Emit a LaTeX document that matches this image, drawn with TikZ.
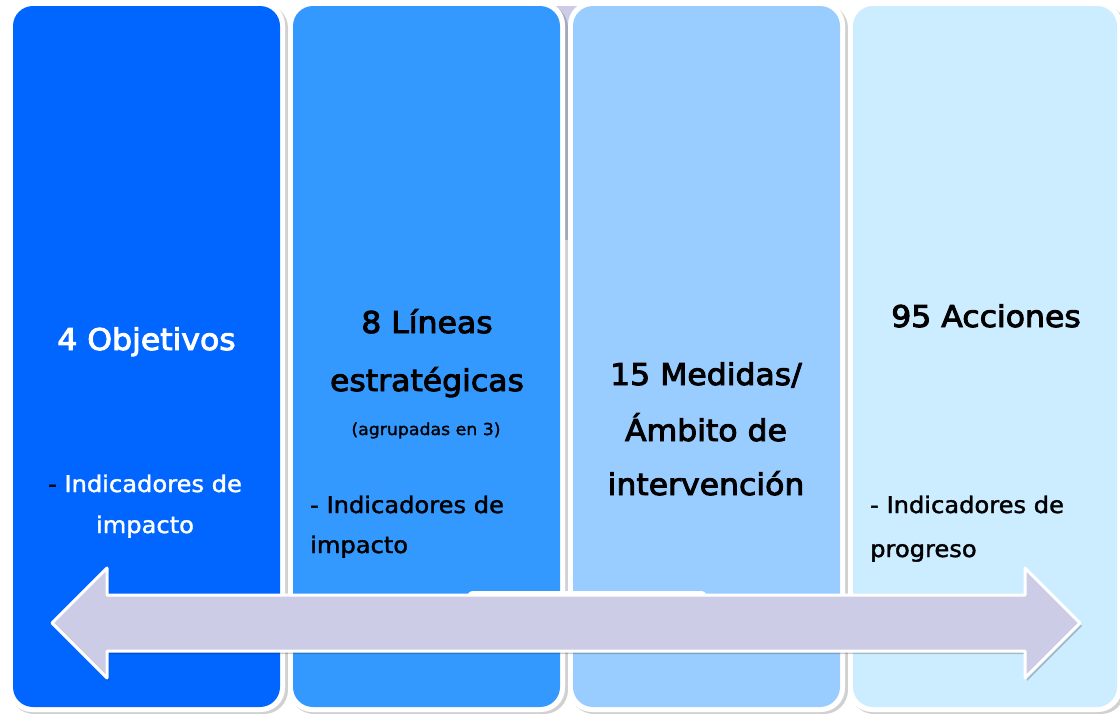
\documentclass[tikz,border=0pt]{standalone}
\usepackage{fontspec}
\setmainfont{DejaVu Sans}
\newfontfamily\titlefont[FakeBold=3]{DejaVu Sans}
\newfontfamily\bodyfont[FakeBold=1.5]{DejaVu Sans}
\definecolor{colA}{HTML}{0066FF}
\definecolor{colB}{HTML}{3399FF}
\definecolor{colC}{HTML}{99CCFF}
\definecolor{colD}{HTML}{CCECFF}
\definecolor{lav}{HTML}{CCCCE6}
\newcommand\widetxt[1]{\scalebox{1.05}[1]{#1}}
\tikzset{
  colshadow/.style={fill=black, opacity=0.18, rounded corners=24pt},
  colborder/.style={fill=white, rounded corners=24pt},
  colfill/.style={rounded corners=20pt},
  ttl/.style={anchor=base, inner sep=0pt, font=\titlefont\fontsize{30}{36}\selectfont},
  bdy/.style={anchor=base, inner sep=0pt, font=\bodyfont\fontsize{23}{27}\selectfont},
  sml/.style={anchor=base, inner sep=0pt, font=\bodyfont\fontsize{16.5}{20}\selectfont},
  bigarrow/.style={draw=white, line width=3pt, fill=lav, line join=round},
}
\begin{document}
\begin{tikzpicture}[x=1pt,y=-1pt]
\useasboundingbox (0,0) rectangle (1120,713);
% lavender shape behind the columns
\fill[lav] (553,6) rectangle (581,240);
% columns
\foreach \l/\r/\c in {13/280/colA, 293/560/colB, 573/840/colC, 853/1117/colD}{
  \fill[colshadow] (\l-3,4) rectangle (\r+8,714);
  \fill[colborder] (\l-5,1) rectangle (\r+5,712);
  \fill[colfill, fill=\c] (\l,6) rectangle (\r,707);
}
% white box behind arrow
\fill[white, rounded corners=6pt] (467,591) rectangle (707,615);
% arrow shadow
\fill[black, opacity=0.2] (54,626) -- (109,571) -- (109,598) -- (1027,598) -- (1027,571) -- (1082,626) -- (1027,681) -- (1027,654) -- (109,654) -- (109,681) -- cycle;
% double arrow
\draw[bigarrow] (52,623) -- (107,568) -- (107,595) -- (1025,595) -- (1025,568) -- (1080,623) -- (1025,678) -- (1025,651) -- (107,651) -- (107,678) -- cycle;
% column 1
\node[ttl, text=white] (t1) at (146.5,350) {\widetxt{4 Objetivos}};
\node[bdy, text=white] (b1a) at (145,492) {\widetxt{{\color{black}-} Indicadores de}};
\node[bdy, text=white] (b1b) at (145,533) {\widetxt{impacto}};
% column 2
\node[ttl] (t2a) at (427,333) {\widetxt{8 Líneas}};
\node[ttl] (t2b) at (427,391) {\widetxt{estratégicas}};
\node[sml] (s2) at (426,435) {\widetxt{(agrupadas en 3)}};
\node[bdy, anchor=base west] (b2a) at (310,513) {\widetxt{- Indicadores de}};
\node[bdy, anchor=base west] (b2b) at (310,553) {\widetxt{impacto}};
% column 3
\node[ttl] (t3a) at (706,385) {\widetxt{15 Medidas/}};
\node[ttl] (t3b) at (706,441) {\widetxt{Ámbito de}};
\node[ttl] (t3c) at (706,495) {\widetxt{intervención}};
% column 4
\node[ttl] (t4) at (986,327) {\widetxt{95 Acciones}};
\node[bdy, anchor=base west] (b4a) at (870,513) {\widetxt{- Indicadores de}};
\node[bdy, anchor=base west] (b4b) at (870,557) {\widetxt{progreso}};
\end{tikzpicture}
\end{document}
